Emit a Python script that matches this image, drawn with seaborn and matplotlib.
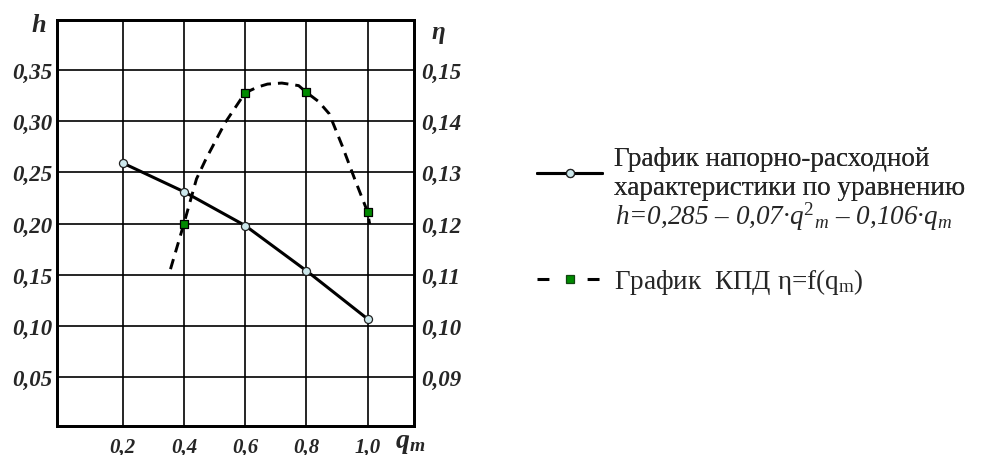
import matplotlib
matplotlib.use("Agg")
import matplotlib.pyplot as plt
from matplotlib.lines import Line2D
import pandas as pd
import seaborn as sns

# ---------------- data ----------------
q_points = [0.2, 0.4, 0.6, 0.8, 1.0]
h_values = [0.259, 0.231, 0.198, 0.154, 0.107]

q_eta_points = [0.4, 0.6, 0.8, 1.0]
eta_values = [0.1200, 0.1455, 0.1456, 0.1223]

q_eta_curve = [0.356, 0.40, 0.441, 0.472, 0.535, 0.60, 0.64, 0.673, 0.72,
               0.775, 0.80, 0.84, 0.875, 0.917, 0.958, 1.00, 1.007]
eta_curve = [0.1111, 0.1200, 0.1287, 0.1326, 0.1397, 0.1455, 0.1466, 0.1472,
             0.1474, 0.1469, 0.1456, 0.1438, 0.1414, 0.1352, 0.1287, 0.1223,
             0.1199]

x_ticks = [0.2, 0.4, 0.6, 0.8, 1.0]
x_tick_labels = ["0,2", "0,4", "0,6", "0,8", "1,0"]
h_ticks = [0.05, 0.10, 0.15, 0.20, 0.25, 0.30, 0.35]
h_tick_labels = ["0,05", "0,10", "0,15", "0,20", "0,25", "0,30", "0,35"]
eta_ticks = [0.09, 0.10, 0.11, 0.12, 0.13, 0.14, 0.15]
eta_tick_labels = ["0,09", "0,10", "0,11", "0,12", "0,13", "0,14", "0,15"]

legend_h_label = "График напорно-расходной\nхарактеристики по уравнению"
formula_text = "$h$=0,285 – 0,07·$q^{2}{}_{m}$ – 0,106·$q_{m}$"
legend_eta_label = "График  КПД η=f(q$_{\\mathrm{m}}$)"

# ---------------- style ----------------
sns.set_theme(style="white")
SERIF = ["Liberation Serif", "DejaVu Serif"]
plt.rcParams["font.family"] = SERIF
plt.rcParams["mathtext.fontset"] = "custom"
plt.rcParams["mathtext.it"] = "Liberation Serif:italic"
plt.rcParams["mathtext.rm"] = "Liberation Serif"
plt.rcParams["mathtext.bf"] = "Liberation Serif:bold:italic"

W, H = 982, 456
fig = plt.figure(figsize=(W / 100, H / 100), dpi=100)
L, R, T, B = 57, 414, 20.7, 427
ax = fig.add_axes([L / W, 1 - B / H, (R - L) / W, (B - T) / H])
ax2 = ax.twinx()

df_h = pd.DataFrame({"q": q_points, "h": h_values})
df_eta = pd.DataFrame({"q": q_eta_points, "eta": eta_values})
df_curve = pd.DataFrame({"q": q_eta_curve, "eta": eta_curve})

sns.lineplot(data=df_h, x="q", y="h", ax=ax, color="black", lw=2.2,
             marker="o", markersize=5.8, markerfacecolor="#cde8ec",
             markeredgecolor="#222222", markeredgewidth=0.9, zorder=3)

sns.lineplot(data=df_curve, x="q", y="eta", ax=ax2, sort=False, color="black",
             lw=2.1, dashes=(3.6, 2.4), zorder=3)
sns.scatterplot(data=df_eta, x="q", y="eta", ax=ax2, marker="s", s=38,
                color="#008a00", edgecolor="black", linewidth=0.9, zorder=4)

ax.set_xlim(-0.015, 1.152)
ax.set_ylim(0.0025, 0.3988)
ax2.set_ylim(0.08 + 0.2 * 0.0025, 0.08 + 0.2 * 0.3988)

ax.set_xticks(x_ticks, x_tick_labels)
ax.set_yticks(h_ticks, h_tick_labels)
ax2.set_yticks(eta_ticks, eta_tick_labels)
ax.set_xlabel("")
ax.set_ylabel("")
ax2.set_xlabel("")
ax2.set_ylabel("")

for lab in ax.get_yticklabels() + ax2.get_yticklabels():
    lab.set_fontfamily(SERIF)
    lab.set_fontsize(16.5)
    lab.set_fontweight("bold")
    lab.set_fontstyle("italic")
for lab in ax.get_xticklabels():
    lab.set_fontfamily(SERIF)
    lab.set_fontsize(15)
    lab.set_fontweight("bold")
    lab.set_fontstyle("italic")
ax.tick_params(axis="x", length=0, pad=7.5)
ax.tick_params(axis="y", length=0, pad=3.5)
ax2.tick_params(axis="y", length=0, pad=5)

ax.grid(True, color="black", lw=1.2)
ax.set_axisbelow(True)
for a in (ax, ax2):
    for s in a.spines.values():
        s.set_color("black")
        s.set_linewidth(2.0)
        s.set_visible(True)

ax.set_facecolor("white")
ax2.patch.set_visible(False)


def fx(px):
    return px / W


def fy(py):
    return 1 - py / H


# axis names
fig.text(fx(39), fy(26), "h", ha="center", va="center", fontsize=19,
         fontweight="bold", fontstyle="italic", family=SERIF)
fig.text(fx(438), fy(33), "η", ha="center", va="center", fontsize=18,
         fontweight="bold", fontstyle="italic", family=SERIF)
fig.text(fx(410), fy(444), "q$_{\\mathbf{m}}$", ha="center", va="center",
         fontsize=20, fontweight="bold", fontstyle="italic", family=SERIF)

# legend
h_handle = Line2D([], [], color="black", lw=2.2, marker="o", markersize=5.8,
                  markerfacecolor="#cde8ec", markeredgecolor="#222222",
                  markeredgewidth=0.9)
eta_handle = Line2D([], [], color="black", lw=2.2, dashes=(3.9, 12.5),
                    marker="s", markersize=6, markerfacecolor="#008a00",
                    markeredgecolor="#114411", markeredgewidth=0.9)
LEG_FS = 19.5
leg_kw = dict(loc="center left", frameon=False, fontsize=LEG_FS,
              handlelength=2.4, handletextpad=0.45, numpoints=1,
              borderaxespad=0, borderpad=0)
leg1 = fig.legend([h_handle], [legend_h_label],
                  bbox_to_anchor=(fx(537), fy(174)), **leg_kw)
for t in leg1.get_texts():
    t.set_linespacing(1.2)
fig.add_artist(leg1)
leg2 = fig.legend([eta_handle], [legend_eta_label],
                  bbox_to_anchor=(fx(537), fy(282)), **leg_kw)
fig.text(fx(615), fy(217), formula_text, ha="left", va="center",
         fontsize=LEG_FS, fontstyle="italic", family=SERIF)

fig.savefig("out.png", dpi=100, facecolor="white")
